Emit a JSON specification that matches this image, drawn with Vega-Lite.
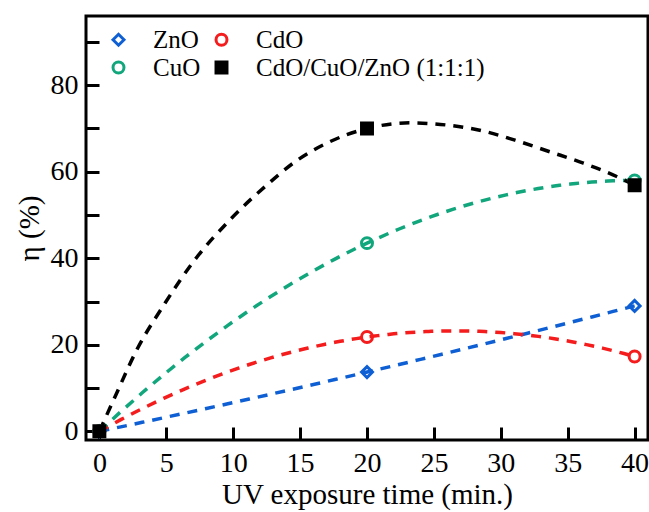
{
  "$schema": "https://vega.github.io/schema/vega-lite/v6.json",
  "autosize": {"type": "none"},
  "padding": {"left": 86, "top": 16, "right": 1, "bottom": 72},
  "width": 562,
  "height": 424,
  "background": "white",
  "config": {
    "view": {"stroke": "black", "strokeWidth": 3},
    "font": "Liberation Serif",
    "axis": {"grid": false, "domain": false, "tickColor": "black", "tickWidth": 3, "tickSize": 13, "offset": -13, "labelColor": "black", "titleColor": "black", "labelFont": "Liberation Serif", "titleFont": "Liberation Serif", "titleFontWeight": "normal", "labelFontSize": 28, "titleFontSize": 29, "labelOverlap": false, "labelBound": false, "labelFlush": false},
    "legend": {"title": null, "orient": "none", "legendX": 20, "legendY": 11, "columns": 2, "labelFontSize": 25, "labelFont": "Liberation Serif", "labelColor": "black", "labelLimit": 400, "symbolSize": 120, "symbolStrokeWidth": 3, "rowPadding": 2, "columnPadding": 8, "labelOffset": 22, "padding": 0}
  },
  "datasets": {
    "pts": [
      {"series": "ZnO", "x": 0, "y": 0},
      {"series": "ZnO", "x": 20, "y": 13.7},
      {"series": "ZnO", "x": 40, "y": 29.0},
      {"series": "CdO", "x": 0, "y": 0},
      {"series": "CdO", "x": 20, "y": 21.8},
      {"series": "CdO", "x": 40, "y": 17.3},
      {"series": "CuO", "x": 0, "y": 0},
      {"series": "CuO", "x": 20, "y": 43.5},
      {"series": "CuO", "x": 40, "y": 58.0},
      {"series": "CdO/CuO/ZnO (1:1:1)", "x": 0, "y": 0},
      {"series": "CdO/CuO/ZnO (1:1:1)", "x": 20, "y": 70.0},
      {"series": "CdO/CuO/ZnO (1:1:1)", "x": 40, "y": 56.9}
    ],
    "fit": [
      {"series": "CdO/CuO/ZnO (1:1:1)", "x": 0, "y": 0},
      {"series": "CdO/CuO/ZnO (1:1:1)", "x": 1.17, "y": 8.0},
      {"series": "CdO/CuO/ZnO (1:1:1)", "x": 2.79, "y": 18.8},
      {"series": "CdO/CuO/ZnO (1:1:1)", "x": 4.9, "y": 29.6},
      {"series": "CdO/CuO/ZnO (1:1:1)", "x": 7.02, "y": 39.2},
      {"series": "CdO/CuO/ZnO (1:1:1)", "x": 9.76, "y": 48.9},
      {"series": "CdO/CuO/ZnO (1:1:1)", "x": 12.5, "y": 56.9},
      {"series": "CdO/CuO/ZnO (1:1:1)", "x": 14.62, "y": 62.3},
      {"series": "CdO/CuO/ZnO (1:1:1)", "x": 16.99, "y": 66.6},
      {"series": "CdO/CuO/ZnO (1:1:1)", "x": 20, "y": 70.0},
      {"series": "CdO/CuO/ZnO (1:1:1)", "x": 23.2, "y": 71.3},
      {"series": "CdO/CuO/ZnO (1:1:1)", "x": 25.96, "y": 70.8},
      {"series": "CdO/CuO/ZnO (1:1:1)", "x": 28.57, "y": 69.5},
      {"series": "CdO/CuO/ZnO (1:1:1)", "x": 31.06, "y": 67.3},
      {"series": "CdO/CuO/ZnO (1:1:1)", "x": 33.68, "y": 64.6},
      {"series": "CdO/CuO/ZnO (1:1:1)", "x": 36.17, "y": 62.0},
      {"series": "CdO/CuO/ZnO (1:1:1)", "x": 38.66, "y": 58.9},
      {"series": "CdO/CuO/ZnO (1:1:1)", "x": 40, "y": 56.9}
    ]
  },
  "layer": [
    {
      "data": {"name": "pts"},
      "transform": [
        {"filter": "datum.series !== 'CdO/CuO/ZnO (1:1:1)'"},
        {"regression": "y", "on": "x", "method": "poly", "order": 2, "groupby": ["series"], "extent": [0, 40]}
      ],
      "mark": {"type": "line", "strokeDash": [10, 8], "strokeWidth": 3.5, "clip": true},
      "encoding": {
        "x": {"field": "x", "type": "quantitative", "scale": {"domain": [-1, 41], "nice": false, "zero": false},
          "axis": {"values": [0, 2.5, 5, 7.5, 10, 12.5, 15, 17.5, 20, 22.5, 25, 27.5, 30, 32.5, 35, 37.5, 40], "labelExpr": "datum.value % 5 === 0 ? datum.label : ''", "labelPadding": 9, "title": "UV exposure time (min.)", "titlePadding": 3}},
        "y": {"field": "y", "type": "quantitative", "scale": {"domain": [-2, 96], "nice": false, "zero": false},
          "axis": {"values": [0, 10, 20, 30, 40, 50, 60, 70, 80, 90], "labelExpr": "datum.value % 20 === 0 ? datum.label : ''", "labelPadding": 8, "title": "η (%)", "titlePadding": 6}},
        "stroke": {"field": "series", "type": "nominal", "legend": null,
          "scale": {"domain": ["CdO/CuO/ZnO (1:1:1)", "CuO", "CdO", "ZnO"], "range": ["#000000", "#12a67c", "#f41c1c", "#0f5fd4"]}}
      }
    },
    {
      "data": {"name": "fit"},
      "mark": {"type": "line", "strokeDash": [10, 8], "strokeWidth": 3.5, "interpolate": "monotone", "clip": true},
      "encoding": {
        "x": {"field": "x", "type": "quantitative", "scale": {"domain": [-1, 41], "nice": false, "zero": false}},
        "y": {"field": "y", "type": "quantitative", "scale": {"domain": [-2, 96], "nice": false, "zero": false}},
        "stroke": {"field": "series", "type": "nominal", "legend": null}
      }
    },
    {
      "data": {"name": "pts"},
      "mark": {"type": "point", "filled": false, "size": 120, "strokeWidth": 3, "opacity": 1},
      "encoding": {
        "x": {"field": "x", "type": "quantitative", "scale": {"domain": [-1, 41], "nice": false, "zero": false}},
        "y": {"field": "y", "type": "quantitative", "scale": {"domain": [-2, 96], "nice": false, "zero": false}},
        "color": {"field": "series", "type": "nominal",
          "scale": {"domain": ["ZnO", "CuO", "CdO", "CdO/CuO/ZnO (1:1:1)"], "range": ["#0f5fd4", "#12a67c", "#f41c1c", "#000000"]}},
        "fill": {"field": "series", "type": "nominal",
          "scale": {"domain": ["ZnO", "CuO", "CdO", "CdO/CuO/ZnO (1:1:1)"], "range": ["transparent", "transparent", "transparent", "#000000"]}},
        "shape": {"field": "series", "type": "nominal",
          "scale": {"domain": ["ZnO", "CuO", "CdO", "CdO/CuO/ZnO (1:1:1)"], "range": ["diamond", "circle", "circle", "square"]}}
      }
    },
    {
      "data": {"name": "pts"},
      "transform": [{"filter": "datum.series === 'CdO/CuO/ZnO (1:1:1)'"}],
      "mark": {"type": "square", "filled": true, "size": 120, "color": "#000000", "opacity": 1},
      "encoding": {
        "x": {"field": "x", "type": "quantitative", "scale": {"domain": [-1, 41], "nice": false, "zero": false}},
        "y": {"field": "y", "type": "quantitative", "scale": {"domain": [-2, 96], "nice": false, "zero": false}}
      }
    }
  ]
}
